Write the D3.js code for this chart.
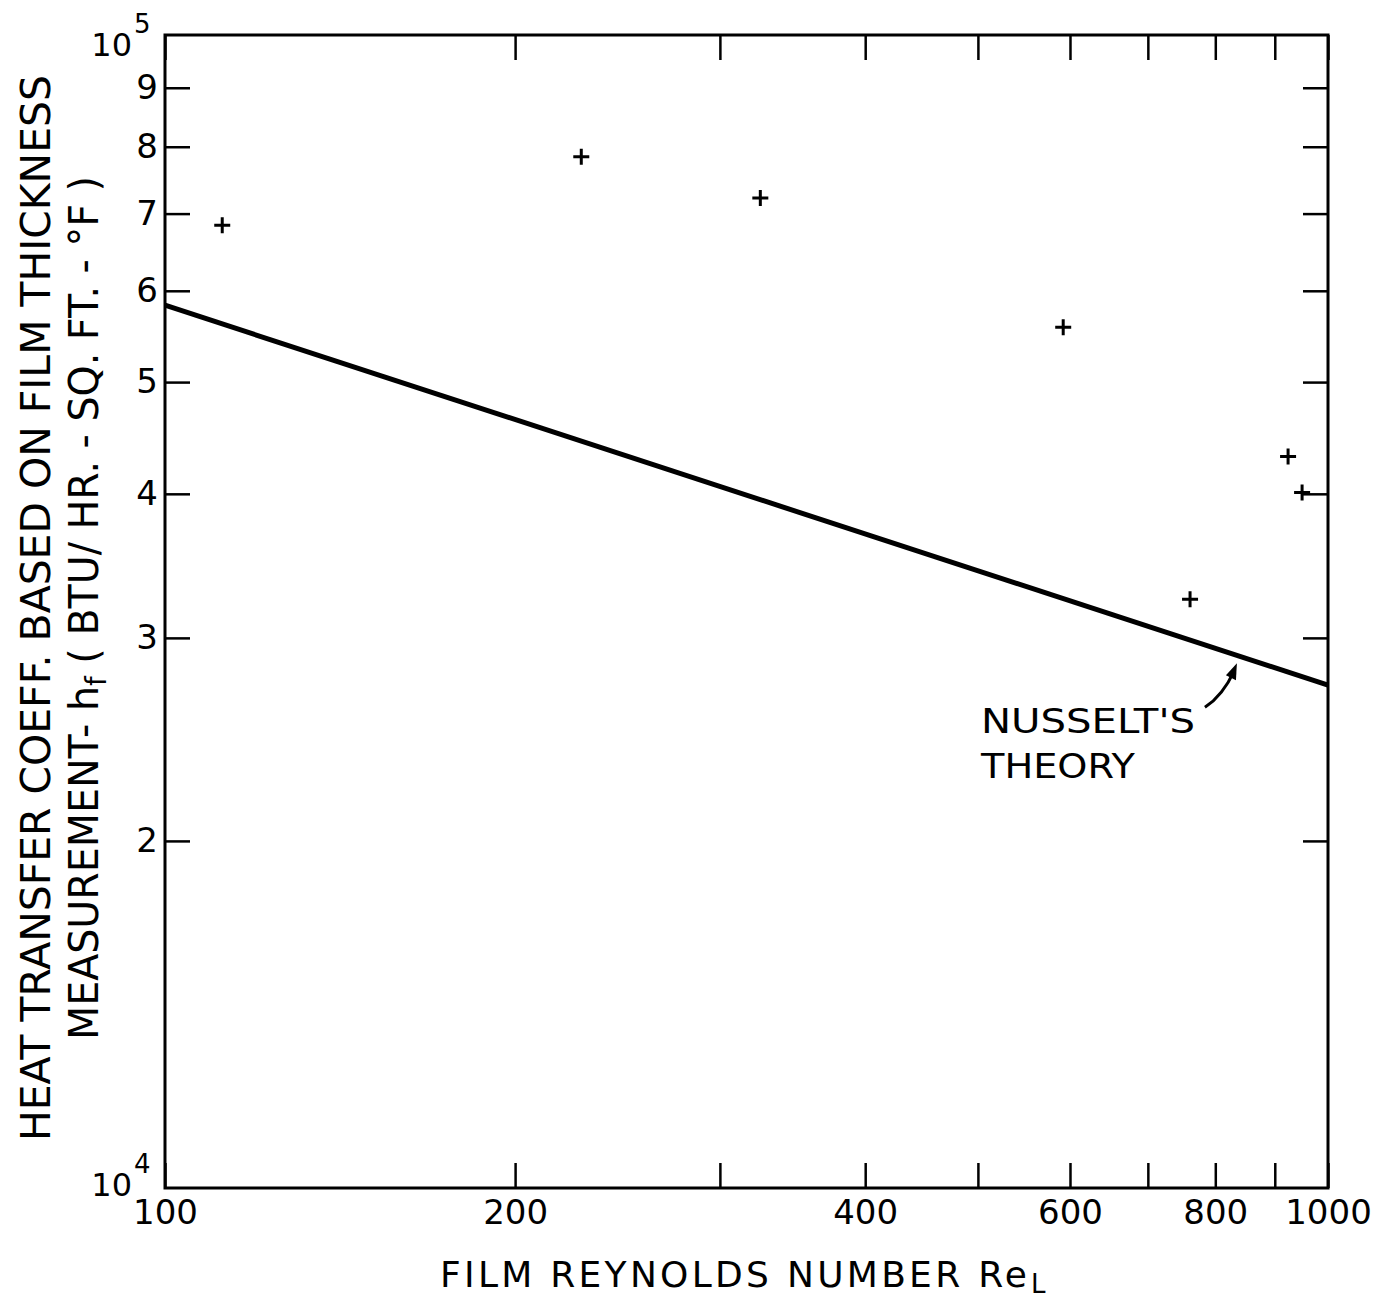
<!DOCTYPE html>
<html><head><meta charset="utf-8">
<script src="https://cdn.jsdelivr.net/npm/d3@7"></script>
<style>body{margin:0;background:#fff}</style>
</head><body>
<svg id="c" width="1380" height="1300"></svg>
<script>
// ---- data ----
const reynolds = [112, 228, 325, 592, 761, 924, 950];
const hMeasured = [68400, 78400, 72200, 55800, 32400, 43100, 40100];
const theoryRe = [100, 1000];
const theoryH = [58300, 27300];
const xTickValues = [100, 200, 300, 400, 500, 600, 700, 800, 900, 1000];
const xTickLabels = ["100", "200", "", "400", "", "600", "", "800", "", "1000"];
const yTickValues = [20000, 30000, 40000, 50000, 60000, 70000, 80000, 90000];
const yTickLabels = ["2", "3", "4", "5", "6", "7", "8", "9"];
const annotationLines = ["NUSSELT'S", "THEORY"];
const annotationRe = 835;

// ---- layout ----
const m = {left: 165, right: 1328, top: 35, bottom: 1188};
const FONT = "'DejaVu Sans', 'Liberation Sans', sans-serif";
const svg = d3.select("#c");

const x = d3.scaleLog().domain([100, 1000]).range([m.left, m.right]);
const y = d3.scaleLog().domain([10000, 100000]).range([m.bottom, m.top]);

const TICK = 25;
function styleAxis(g, fs) {
  g.select(".domain").remove();
  g.selectAll(".tick line").attr("stroke", "#000").attr("stroke-width", 2.5);
  g.selectAll("text").attr("font-family", FONT).attr("font-size", fs).attr("fill", "#000");
}

// bottom axis
svg.append("g").attr("transform", `translate(0,${m.bottom})`)
  .call(d3.axisBottom(x).tickValues(xTickValues)
    .tickFormat((d, i) => xTickLabels[i]).tickSizeInner(-TICK).tickSizeOuter(0).tickPadding(12))
  .call(g => styleAxis(g, 34));
// top axis (ticks only)
svg.append("g").attr("transform", `translate(0,${m.top})`)
  .call(d3.axisTop(x).tickValues(xTickValues).tickFormat("").tickSizeInner(-TICK).tickSizeOuter(0))
  .call(g => styleAxis(g, 34));
// left axis
svg.append("g").attr("transform", `translate(${m.left},0)`)
  .call(d3.axisLeft(y).tickValues(yTickValues)
    .tickFormat((d, i) => yTickLabels[i]).tickSizeInner(-TICK).tickSizeOuter(0).tickPadding(7))
  .call(g => styleAxis(g, 34));
// right axis (ticks only)
svg.append("g").attr("transform", `translate(${m.right},0)`)
  .call(d3.axisRight(y).tickValues(yTickValues).tickFormat("").tickSizeInner(-TICK).tickSizeOuter(0))
  .call(g => styleAxis(g, 34));

// frame
svg.append("rect").attr("x", m.left).attr("y", m.top)
  .attr("width", m.right - m.left).attr("height", m.bottom - m.top)
  .attr("fill", "none").attr("stroke", "#000").attr("stroke-width", 3);

// decade labels 10^5 and 10^4
function decade(base, exp) {
  svg.append("text").attr("font-family", FONT).attr("fill", "#000").attr("font-size", 32)
    .attr("x", 132).attr("y", base).attr("text-anchor", "end").text("10");
  svg.append("text").attr("font-family", FONT).attr("fill", "#000").attr("font-size", 26)
    .attr("x", 134).attr("y", base - 23).text(exp);
}
decade(56, "5");
decade(1196, "4");

// Nusselt theory line
const theory = theoryRe.map((r, i) => [r, theoryH[i]]);
svg.append("path").datum(theory)
  .attr("d", d3.line().x(d => x(d[0])).y(d => y(d[1])))
  .attr("stroke", "#000").attr("stroke-width", 5).attr("fill", "none");

// data points (+)
const pts = reynolds.map((r, i) => [r, hMeasured[i]]);
const s = 8;
svg.append("g").selectAll("path").data(pts).join("path")
  .attr("d", d => {
    const cx = x(d[0]), cy = y(d[1]);
    return `M${cx - s},${cy}H${cx + s}M${cx},${cy - s}V${cy + s}`;
  })
  .attr("stroke", "#000").attr("stroke-width", 3).attr("fill", "none");

// annotation
const logInterp = (r) => {
  const t = (Math.log10(r) - Math.log10(theoryRe[0])) / (Math.log10(theoryRe[1]) - Math.log10(theoryRe[0]));
  return Math.pow(10, Math.log10(theoryH[0]) + t * (Math.log10(theoryH[1]) - Math.log10(theoryH[0])));
};
const tipX = x(annotationRe), tipY = y(logInterp(annotationRe)) + 8;
svg.append("path")
  .attr("d", `M${tipX - 32},${tipY + 44} Q${tipX - 14},${tipY + 32} ${tipX - 3},${tipY + 8}`)
  .attr("stroke", "#000").attr("stroke-width", 3).attr("fill", "none");
svg.append("path")
  .attr("d", `M${tipX},${tipY} L${tipX - 11},${tipY + 12} L${tipX - 1},${tipY + 17} Z`)
  .attr("fill", "#000");
annotationLines.forEach((t, i) => {
  svg.append("text").attr("font-family", FONT).attr("font-size", 34).attr("fill", "#000")
    .attr("x", 981).attr("y", 733 + i * 45).attr("textLength", i === 0 ? 214 : 154)
    .attr("lengthAdjust", "spacingAndGlyphs").text(t);
});

// x axis title
svg.append("text").attr("font-family", FONT).attr("font-size", 36).attr("fill", "#000")
  .attr("x", 440).attr("y", 1287).attr("textLength", 587).attr("lengthAdjust", "spacing")
  .text("FILM REYNOLDS NUMBER Re");
svg.append("text").attr("font-family", FONT).attr("font-size", 26).attr("fill", "#000")
  .attr("x", 1031).attr("y", 1293).text("L");

// y axis title (two lines)
svg.append("text").attr("font-family", FONT).attr("font-size", 40).attr("fill", "#000")
  .attr("transform", `translate(50,1141) rotate(-90)`)
  .attr("textLength", 1066).attr("lengthAdjust", "spacingAndGlyphs")
  .text("HEAT TRANSFER COEFF. BASED ON FILM THICKNESS");
const yt2 = svg.append("text").attr("font-family", FONT).attr("font-size", 40).attr("fill", "#000")
  .attr("transform", `translate(98,1040) rotate(-90)`)
  .attr("textLength", 864).attr("lengthAdjust", "spacingAndGlyphs");
yt2.append("tspan").text("MEASUREMENT- h");
yt2.append("tspan").attr("font-size", 28).attr("dy", 8).text("f");
yt2.append("tspan").attr("dy", -8).text("  ( BTU/ HR. - SQ. FT. - °F )");
</script>
</body></html>
